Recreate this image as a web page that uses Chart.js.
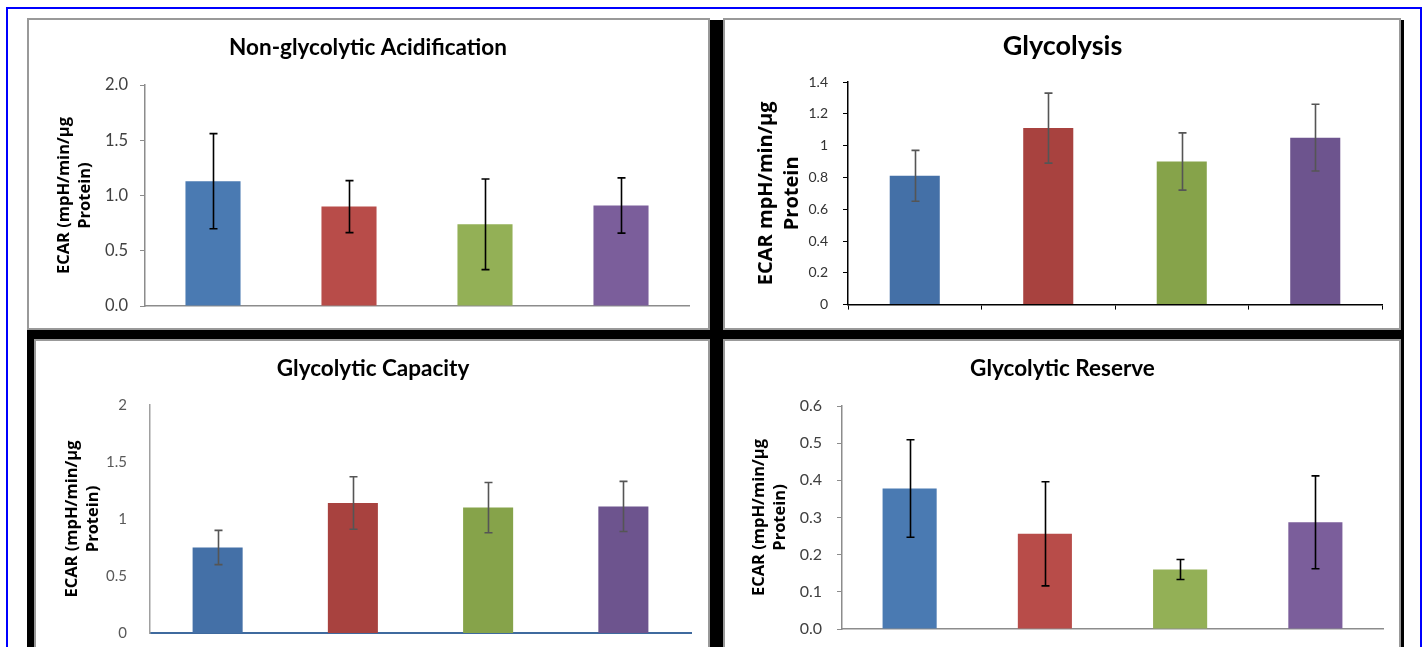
<!DOCTYPE html>
<html>
<head>
<meta charset="utf-8">
<script src="https://cdn.jsdelivr.net/npm/chart.js@4.4.1/dist/chart.umd.min.js"></script>
<style>
  html, body { margin: 0; padding: 0; background: #fff; overflow: hidden; width: 1424px; height: 647px; }
  .frame { position: absolute; left: 6px; top: 7px; width: 1416px; height: 660px; border: 2px solid #0000ff; box-sizing: border-box; }
  .backing { position: absolute; left: 27px; top: 20px; width: 1377px; height: 650px; background: #000; }
  .panel { position: absolute; background: #fff; border: 2px solid #999; box-sizing: border-box; }
  .panel canvas { position: absolute; left: 0; top: 0; }
</style>
</head>
<body>
<div class="frame"></div>
<div class="backing"></div>
<div class="panel" style="left:27px; top:18px; width:683px; height:312px;"><canvas id="chart1" width="679" height="308"></canvas></div>
<div class="panel" style="left:723px; top:18px; width:678px; height:312px;"><canvas id="chart2" width="674" height="308"></canvas></div>
<div class="panel" style="left:34px; top:339px; width:676px; height:330px;"><canvas id="chart3" width="672" height="326"></canvas></div>
<div class="panel" style="left:723px; top:339px; width:678px; height:330px;"><canvas id="chart4" width="674" height="326"></canvas></div>

<script>
// groups (no labels shown on the x axis in the original)
const groups = ['Group 1', 'Group 2', 'Group 3', 'Group 4'];

// Non-glycolytic Acidification
const nonGlyMean = [1.13, 0.90, 0.74, 0.91];
const nonGlyErr = [0.43, 0.235, 0.41, 0.25];
const nonGlyTicks = ['0.0', '0.5', '1.0', '1.5', '2.0'];

// Glycolysis
const glyMean = [0.81, 1.11, 0.90, 1.05];
const glyErr = [0.16, 0.22, 0.18, 0.21];
const glyTicks = ['0', '0.2', '0.4', '0.6', '0.8', '1', '1.2', '1.4'];

// Glycolytic Capacity
const capMean = [0.75, 1.14, 1.10, 1.11];
const capErr = [0.15, 0.23, 0.22, 0.22];
const capTicks = ['0', '0.5', '1', '1.5', '2'];

// Glycolytic Reserve
const resMean = [0.378, 0.256, 0.160, 0.287];
const resErr = [0.131, 0.140, 0.027, 0.125];
const resTicks = ['0.0', '0.1', '0.2', '0.3', '0.4', '0.5', '0.6'];

const lightColors = ['#4a7ab2', '#b84c49', '#93b056', '#7b5e9b'];
const darkColors = ['#4470a7', '#a8423f', '#86a34a', '#6d548e'];

// draws mean +/- error whiskers using the chart's own y scale
const errorBars = {
    id: 'errorBars',
    afterDatasetsDraw(chart, args, opts) {
        const ctx = chart.ctx;
        const y = chart.scales.y;
        const values = chart.data.datasets[0].data;
        const cap = 4;
        ctx.save();
        ctx.strokeStyle = opts.color;
        ctx.lineWidth = opts.width;
        chart.getDatasetMeta(0).data.forEach((bar, i) => {
            const x = Math.round(bar.x) + 0.5;
            const top = y.getPixelForValue(values[i] + opts.errors[i]);
            const bottom = y.getPixelForValue(values[i] - opts.errors[i]);
            ctx.beginPath();
            ctx.moveTo(x, top);
            ctx.lineTo(x, bottom);
            ctx.moveTo(x - cap, top);
            ctx.lineTo(x + cap, top);
            ctx.moveTo(x - cap, bottom);
            ctx.lineTo(x + cap, bottom);
            ctx.stroke();
        });
        ctx.restore();
    }
};

// builds one panel; geometry values place the plot area like the original
function makeChart(id, cfg) {
    const ctx = document.getElementById(id).getContext('2d');
    return new Chart(ctx, {
        type: 'bar',
        data: {
            labels: groups,
            datasets: [{
                data: cfg.values,
                backgroundColor: cfg.colors,
                barPercentage: cfg.barPct,
                categoryPercentage: 1
            }]
        },
        plugins: [errorBars],
        options: {
            responsive: false,
            animation: false,
            devicePixelRatio: 1,
            layout: { padding: { left: cfg.padLeft, top: 0, bottom: 0, right: cfg.padRight } },
            plugins: {
                legend: { display: false },
                tooltip: { enabled: false },
                title: {
                    display: true,
                    text: cfg.title,
                    color: '#000',
                    font: { family: 'Lato', size: cfg.titleSize, weight: 'bold', lineHeight: 1.2 },
                    padding: { top: cfg.titleTop, bottom: cfg.titleBottom }
                },
                errorBars: { errors: cfg.errors, color: cfg.errColor, width: 1.6 }
            },
            scales: {
                x: {
                    ticks: { display: false },
                    grid: {
                        display: cfg.xTicks,
                        drawOnChartArea: false,
                        drawTicks: true,
                        tickLength: 5,
                        color: cfg.xAxisColor,
                        offset: true
                    },
                    border: { display: true, color: cfg.xAxisColor, width: cfg.xAxisWidth },
                    afterFit: scale => { scale.height = cfg.xHeight; }
                },
                y: {
                    min: 0,
                    max: cfg.max,
                    ticks: {
                        stepSize: cfg.step,
                        color: cfg.tickColor,
                        padding: cfg.tickPad,
                        font: { family: 'Lato', size: cfg.tickSize },
                        callback: (v, i) => cfg.ticks[i]
                    },
                    grid: {
                        display: cfg.yTicks,
                        drawOnChartArea: false,
                        drawTicks: true,
                        tickLength: 5,
                        color: cfg.yAxisColor
                    },
                    border: { display: true, color: cfg.yAxisColor, width: 1.5 },
                    title: {
                        display: true,
                        text: cfg.yTitle,
                        color: '#000',
                        font: { family: 'Open Sans', size: cfg.yTitleSize, weight: 'bold', lineHeight: 1.3 },
                        padding: { top: cfg.yTitlePad, bottom: 0 }
                    },
                    afterFit: scale => { scale.width = cfg.yWidth; }
                }
            }
        }
    });
}

makeChart('chart1', {
    title: 'Non-glycolytic Acidification', titleSize: 22.5,
    values: nonGlyMean, errors: nonGlyErr, ticks: nonGlyTicks,
    max: 2, step: 0.5, colors: lightColors, barPct: 0.405,
    errColor: '#000', tickColor: '#404040', tickPad: 12, tickSize: 16.5,
    xAxisColor: '#8c8c8c', xAxisWidth: 1.5, xTicks: false,
    yAxisColor: '#8c8c8c', yTicks: true,
    yTitle: ['ECAR (mpH/min/µg', 'Protein)'], yTitleSize: 16.5, yTitlePad: 6.3,
    padLeft: 18, yWidth: 98, xHeight: 20, padRight: 19, titleTop: 14.5, titleBottom: 23.5
});

makeChart('chart2', {
    title: 'Glycolysis', titleSize: 27,
    values: glyMean, errors: glyErr, ticks: glyTicks,
    max: 1.4, step: 0.2, colors: darkColors, barPct: 0.375,
    errColor: '#555', tickColor: '#333', tickPad: 15, tickSize: 14,
    xAxisColor: '#000', xAxisWidth: 1.5, xTicks: true,
    yAxisColor: '#000', yTicks: true,
    yTitle: ['ECAR mpH/min/µg', 'Protein'], yTitleSize: 20, yTitlePad: 10,
    padLeft: 18, yWidth: 105, xHeight: 18, padRight: 17, titleTop: 9.8, titleBottom: 19.8
});

makeChart('chart3', {
    title: 'Glycolytic Capacity', titleSize: 22.5,
    values: capMean, errors: capErr, ticks: capTicks,
    max: 2, step: 0.5, colors: darkColors, barPct: 0.37,
    errColor: '#555', tickColor: '#595959', tickPad: 18, tickSize: 15,
    xAxisColor: '#3f6a9e', xAxisWidth: 2, xTicks: false,
    yAxisColor: '#a0a0a0', yTicks: false,
    yTitle: ['ECAR (mpH/min/µg', 'Protein)'], yTitleSize: 16.5, yTitlePad: 6.3,
    padLeft: 19, yWidth: 95, xHeight: 34, padRight: 17, titleTop: 14.5, titleBottom: 22.5
});

makeChart('chart4', {
    title: 'Glycolytic Reserve', titleSize: 22.5,
    values: resMean, errors: resErr, ticks: resTicks,
    max: 0.6, step: 0.1, colors: lightColors, barPct: 0.40,
    errColor: '#000', tickColor: '#404040', tickPad: 15, tickSize: 16,
    xAxisColor: '#8c8c8c', xAxisWidth: 1.5, xTicks: false,
    yAxisColor: '#8c8c8c', yTicks: true,
    yTitle: ['ECAR (mpH/min/µg', 'Protein)'], yTitleSize: 16.5, yTitlePad: 6.3,
    padLeft: 17, yWidth: 100, xHeight: 38, padRight: 16, titleTop: 14.5, titleBottom: 23.5
});
</script>
</body>
</html>
